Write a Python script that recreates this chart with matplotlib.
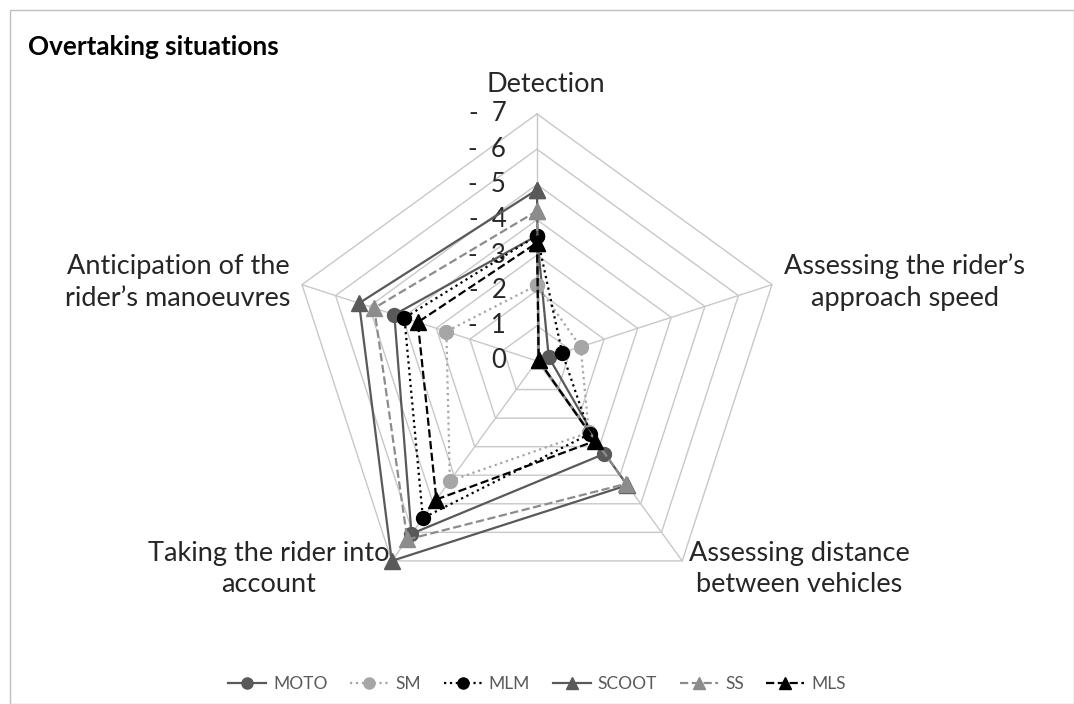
import numpy as np
import matplotlib
matplotlib.use('Agg')
import matplotlib.pyplot as plt
from matplotlib.patches import Rectangle

plt.rcParams['font.family'] = ['Lato', 'DejaVu Sans']

# axes of the radar, clockwise from the top
categories = ['Detection',
              'Assessing the rider\u2019s\napproach speed',
              'Assessing distance\nbetween vehicles',
              'Taking the rider into\naccount',
              'Anticipation of the\nrider\u2019s manoeuvres']
ticks = [0, 1, 2, 3, 4, 5, 6, 7]

# mean scores
moto = [3.55, 0.35, 3.25, 6.05, 4.25]
sm = [2.15, 1.30, 2.50, 4.20, 2.70]
mlm = [3.55, 0.75, 2.55, 5.50, 3.95]
scoot = [4.85, 0.05, 4.35, 7.00, 5.30]
ss = [4.25, 0.05, 4.30, 6.25, 4.85]
mls = [3.35, 0.05, 2.80, 4.85, 3.55]

series = [
    ('MOTO', moto, '-', '#595959', 'o', '#595959', 10),
    ('SM', sm, ':', '#a6a6a6', 'o', '#a6a6a6', 10),
    ('MLM', mlm, ':', '#000000', 'o', '#000000', 10),
    ('SCOOT', scoot, '-', '#595959', '^', '#595959', 11),
    ('SS', ss, '--', '#8c8c8c', '^', '#8c8c8c', 11),
    ('MLS', mls, '--', '#000000', '^', '#000000', 11),
]

n = len(categories)
ang = np.pi / 2 - np.arange(n) * 2 * np.pi / n


def to_xy(vals):
    v = np.array(list(vals) + [vals[0]], dtype=float)
    a = np.append(ang, ang[0])
    return v * np.cos(a), v * np.sin(a)


W, H = 1074, 704
cx, cy, unit = 537, 361, 35.3
fig = plt.figure(figsize=(W / 100, H / 100), dpi=100)
ax = fig.add_axes([0, 0, 1, 1])
ax.set_xlim(-cx / unit, (W - cx) / unit)
ax.set_ylim(-(H - cy) / unit, cy / unit)
ax.axis('off')

# pentagon grid
for t in ticks[1:]:
    gx, gy = to_xy([t] * n)
    ax.plot(gx, gy, color='#c8c8c8', lw=1.0, zorder=1)
for a in ang:
    ax.plot([0, 7 * np.cos(a)], [0, 7 * np.sin(a)], color='#c8c8c8', lw=1.0, zorder=1)

# value labels
for t in ticks:
    lab = str(t) if t == 0 else '-  ' + str(t)
    ax.text(-0.87, t, lab, ha='right', va='center', fontsize=18.5, color='#262626')

for i, (name, vals, ls, col, mk, mcol, ms) in enumerate(series):
    x, y = to_xy(vals)
    ax.plot(x, y, linestyle=ls, color=col, lw=1.6, marker=mk, markersize=ms,
            markerfacecolor=mcol, markeredgecolor=mcol, label=name, zorder=3 + i)

# category labels
lab_pos = [(546, 84), (905, 282), (799, 569), (269, 569), (178, 282)]
for txt, (px, py) in zip(categories, lab_pos):
    fig.text(px / W, 1 - py / H, txt, ha='center', va='center', fontsize=19.5,
             color='#262626', linespacing=1.35)

fig.text(28 / W, 1 - 47 / H, 'Overtaking situations', ha='left', va='center',
         fontsize=18.8, fontweight='bold', color='#000000')

leg = fig.legend(loc='center', bbox_to_anchor=(0.5, 1 - 684 / H), ncol=6,
                 frameon=False, fontsize=12.5, handlelength=2.2, columnspacing=1.3,
                 handletextpad=0.4)
for t in leg.get_texts():
    t.set_color('#595959')
for h in leg.legend_handles:
    h.set_markersize(8)

fig.patches.append(Rectangle((10 / W, 0.5 / H), (W - 10.5) / W, (H - 10.5) / H,
                             transform=fig.transFigure, fill=False,
                             edgecolor='#bfbfbf', lw=1.0))

fig.savefig('out.png', dpi=100)
